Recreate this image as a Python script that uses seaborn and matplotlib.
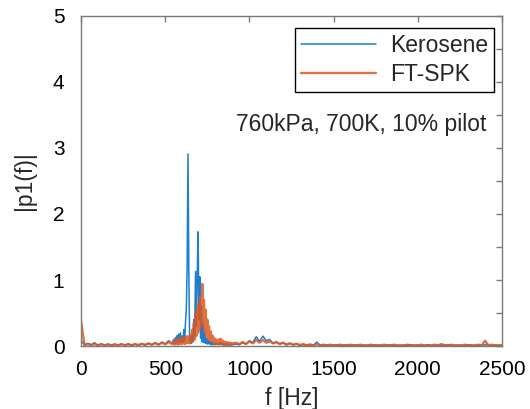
import numpy as np
import pandas as pd
import seaborn as sns
import matplotlib.pyplot as plt

# frequency bins [Hz]: coarse at the ends, finer around the peaks
freq_low = list(range(0, 541, 20))
freq_mid = list(range(550, 901, 5))
freq_high = list(range(920, 2501, 20))

# |p1(f)| (the spectra are spiky, so values jump bin to bin)
kero_low = [0.08, 0.02, 0.04, 0.02, 0.05, 0.01, 0.03, 0.01, 0.03, 0.01,
            0.03, 0.01, 0.03, 0.01, 0.03, 0.01, 0.03, 0.01, 0.03, 0.02,
            0.04, 0.02, 0.05, 0.02, 0.06, 0.03, 0.08, 0.04]
kero_mid = [0.10, 0.03, 0.13, 0.04, 0.16, 0.05, 0.18, 0.04, 0.20, 0.06,
            0.15, 0.05, 0.25, 0.08, 0.35, 0.55, 1.20, 2.91, 1.10, 0.08,
            0.12, 0.04, 0.18, 0.06, 0.40, 0.15, 1.13, 0.30, 1.10, 1.73,
            0.40, 1.05, 0.12, 0.60, 0.06, 0.35, 0.05, 0.20, 0.04, 0.12,
            0.03, 0.09, 0.03, 0.07, 0.02, 0.06, 0.02, 0.05, 0.02, 0.05,
            0.02, 0.04, 0.02, 0.04, 0.02, 0.05, 0.02, 0.04, 0.02, 0.04,
            0.01, 0.03, 0.02, 0.04, 0.01, 0.03, 0.02, 0.03, 0.01, 0.03,
            0.02]
kero_high = [0.03, 0.02, 0.05, 0.03, 0.08, 0.05, 0.14, 0.07, 0.15, 0.08,
             0.10, 0.04, 0.06, 0.03, 0.05, 0.02, 0.04, 0.02, 0.03, 0.01,
             0.02, 0.01, 0.02, 0.01, 0.06, 0.01, 0.02, 0.01, 0.02, 0.01,
             0.02, 0.01, 0.01, 0.02, 0.01, 0.01, 0.02, 0.01, 0.01, 0.01,
             0.01, 0.02, 0.01, 0.01, 0.01, 0.02, 0.01, 0.01, 0.01, 0.01,
             0.01, 0.01, 0.02, 0.01, 0.01, 0.01, 0.01, 0.02, 0.01, 0.01,
             0.01, 0.01, 0.01, 0.02, 0.01, 0.01, 0.01, 0.01, 0.01, 0.02,
             0.01, 0.01, 0.01, 0.01, 0.02, 0.01, 0.01, 0.01, 0.01, 0.01]

spk_low = [0.38, 0.01, 0.03, 0.01, 0.03, 0.01, 0.03, 0.01, 0.025, 0.01,
           0.025, 0.01, 0.03, 0.01, 0.03, 0.01, 0.03, 0.015, 0.035, 0.015,
           0.04, 0.02, 0.045, 0.02, 0.05, 0.025, 0.06, 0.03]
spk_mid = [0.08, 0.02, 0.09, 0.03, 0.10, 0.02, 0.11, 0.03, 0.12, 0.03,
           0.13, 0.04, 0.12, 0.03, 0.14, 0.04, 0.15, 0.05, 0.14, 0.04,
           0.16, 0.05, 0.25, 0.08, 0.35, 0.10, 0.50, 0.15, 0.60, 0.20,
           0.65, 0.25, 0.75, 0.30, 0.94, 0.35, 0.70, 0.20, 0.55, 0.15,
           0.40, 0.10, 0.30, 0.08, 0.22, 0.06, 0.16, 0.05, 0.12, 0.04,
           0.10, 0.03, 0.09, 0.03, 0.10, 0.04, 0.11, 0.03, 0.08, 0.02,
           0.07, 0.02, 0.06, 0.02, 0.06, 0.02, 0.05, 0.02, 0.05, 0.02,
           0.04]
spk_high = [0.05, 0.03, 0.06, 0.03, 0.07, 0.04, 0.09, 0.05, 0.09, 0.05,
            0.07, 0.04, 0.06, 0.03, 0.05, 0.02, 0.04, 0.02, 0.035, 0.015,
            0.03, 0.01, 0.025, 0.01, 0.025, 0.01, 0.02, 0.01, 0.02, 0.01,
            0.01, 0.02, 0.01, 0.01, 0.02, 0.01, 0.01, 0.02, 0.01, 0.01,
            0.02, 0.01, 0.01, 0.01, 0.02, 0.01, 0.01, 0.02, 0.01, 0.01,
            0.01, 0.02, 0.01, 0.01, 0.01, 0.02, 0.01, 0.01, 0.01, 0.02,
            0.01, 0.03, 0.01, 0.01, 0.02, 0.01, 0.01, 0.01, 0.02, 0.01,
            0.01, 0.01, 0.02, 0.01, 0.08, 0.01, 0.02, 0.01, 0.01, 0.01]

x_ticks = [0, 500, 1000, 1500, 2000, 2500]
y_labels = ["0", "1", "2", "3", "4", "5"]

freq = freq_low + freq_mid + freq_high
kero = pd.DataFrame({"f": freq, "amp": kero_low + kero_mid + kero_high})
spk = pd.DataFrame({"f": freq, "amp": spk_low + spk_mid + spk_high})

sns.set_style("white")
plt.rcParams["font.family"] = ["Liberation Sans", "DejaVu Sans"]

fig = plt.figure(figsize=(5.30, 4.09), dpi=100)
ax = fig.add_axes([0.153, 0.154, 0.794, 0.807])

sns.lineplot(data=kero, x="f", y="amp", ax=ax, color="#1a7fd0",
             linewidth=1.1, label="Kerosene")
sns.lineplot(data=spk, x="f", y="amp", ax=ax, color="#dc5820",
             linewidth=1.7, alpha=0.85, label="FT-SPK")

ax.set_xlim(0, 2500)
ax.set_ylim(0, 5)
ax.set_xticks(x_ticks)
ax.set_xticklabels([str(t) for t in x_ticks])
yt = np.arange(0, 5.01, 0.5)
ax.set_yticks(yt)
ax.set_yticklabels([y_labels[int(v)] if v == int(v) else "" for v in yt])

gray = "#7a7a7a"
for s in ax.spines.values():
    s.set_visible(True)
    s.set_color(gray)
    s.set_linewidth(1.0)
ax.tick_params(direction="in", length=4, width=1, color=gray,
               top=True, right=True, labelsize=15, labelcolor="black")
ax.tick_params(axis="y", pad=12)
ax.tick_params(axis="x", pad=10)

ax.set_xlabel("f [Hz]", fontsize=16.5, labelpad=6)
ax.set_ylabel("|p1(f)|", fontsize=16.5, labelpad=12)

leg = ax.legend(loc="upper right", bbox_to_anchor=(0.981, 0.964),
                fontsize=16.5, frameon=True, fancybox=False, framealpha=1,
                handlelength=3.3, handletextpad=0.6, borderaxespad=0,
                borderpad=0.25, labelspacing=0.3)
leg.get_frame().set_edgecolor("black")
leg.get_frame().set_linewidth(1.0)

ax.text(0.964, 0.67, "760kPa, 700K, 10% pilot", transform=ax.transAxes,
        ha="right", va="center", fontsize=16.5)

fig.savefig("out.png", dpi=100)
